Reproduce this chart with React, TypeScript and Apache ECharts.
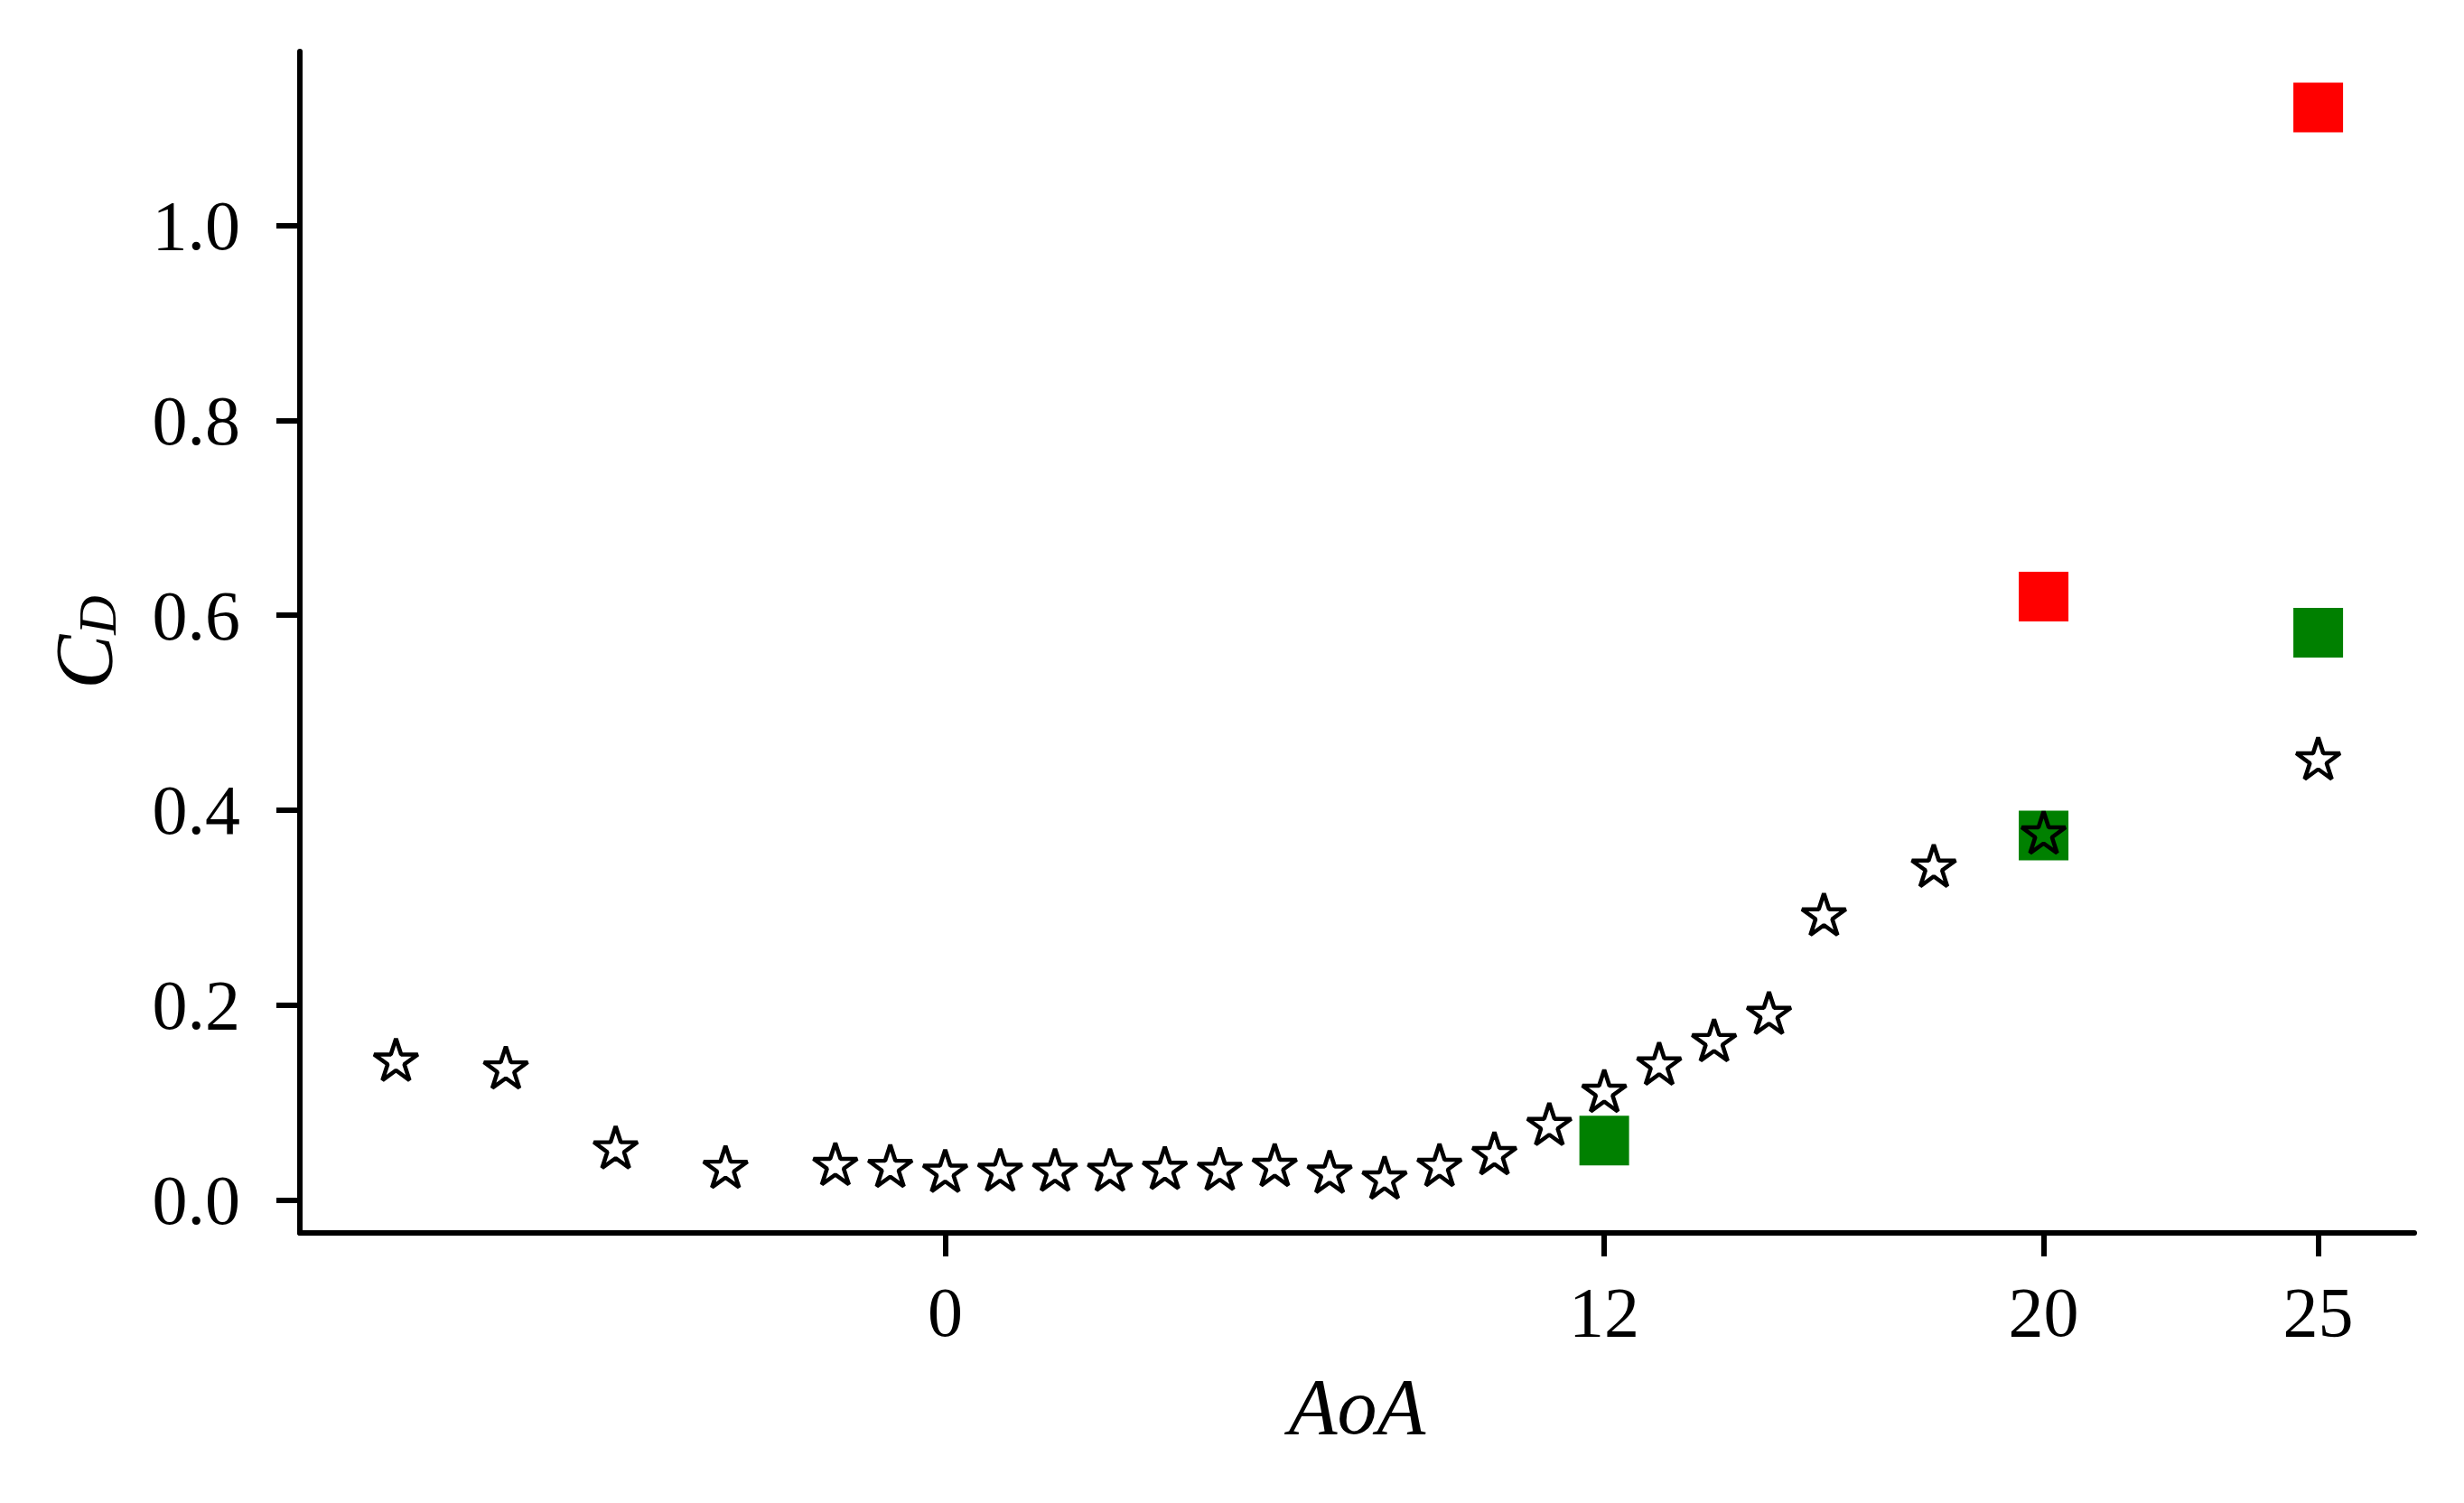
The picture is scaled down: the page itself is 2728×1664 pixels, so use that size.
import React, { useEffect, useRef } from "react";
import * as echarts from "echarts";

// Star series (black hollow stars)
const starAoA = [-10, -8, -6, -4, -2, -1, 0, 1, 2, 3, 4, 5, 6, 7, 8, 9, 10, 11, 12, 13, 14, 15, 16, 18, 20, 25];
const starCD = [0.142, 0.134, 0.052, 0.032, 0.035, 0.033, 0.028, 0.029, 0.029, 0.029, 0.031, 0.030, 0.034, 0.027, 0.021, 0.034, 0.046, 0.076, 0.110, 0.138, 0.162, 0.190, 0.291, 0.341, 0.375, 0.451];

// Red squares
const redAoA = [20, 25];
const redCD = [0.619, 1.121];

// Green squares
const greenAoA = [12, 20, 25];
const greenCD = [0.061, 0.374, 0.582];

// Tick labels
const xTicks = [0, 12, 20, 25];
const yTicks = [0, 0.2, 0.4, 0.6, 0.8, 1.0];

const STAR_PATH =
  "path://M0,-100 L22.452,-30.902 L95.106,-30.902 L36.327,11.803 L58.779,80.902 L0,38.197 L-58.779,80.902 L-36.327,11.803 L-95.106,-30.902 L-22.452,-30.902 Z";

const FONT = "'Liberation Serif', 'Times New Roman', serif";

const zip = (xs: number[], ys: number[]) => xs.map((x, i) => [x, ys[i]]);

export default function App() {
  const ref = useRef<HTMLDivElement>(null);

  useEffect(() => {
    document.body.style.margin = "0";
    if (!ref.current) return;
    const chart = echarts.init(ref.current, undefined, { renderer: "svg" });
    chart.setOption({
      animation: false,
      backgroundColor: "#ffffff",
      grid: { left: 332, top: 57, right: 55, bottom: 299, containLabel: false },
      xAxis: {
        type: "value",
        min: -11.75,
        max: 26.75,
        splitLine: { show: false },
        axisLine: { show: true, onZero: false, lineStyle: { color: "#000", width: 6 } },
        axisTick: {
          show: true,
          length: 26,
          lineStyle: { color: "#000", width: 6 },
          customValues: xTicks,
        },
        axisLabel: {
          customValues: xTicks,
          fontSize: 78,
          fontFamily: FONT,
          color: "#000",
          margin: 48,
        },
        name: "AoA",
        nameLocation: "middle",
        nameGap: 148,
        nameTextStyle: { fontSize: 88, fontStyle: "italic", fontFamily: FONT, color: "#000" },
      },
      yAxis: {
        type: "value",
        min: -0.0338,
        max: 1.1784,
        splitLine: { show: false },
        axisLine: { show: true, onZero: false, lineStyle: { color: "#000", width: 6 } },
        axisTick: {
          show: true,
          length: 26,
          lineStyle: { color: "#000", width: 6 },
          customValues: yTicks,
        },
        axisLabel: {
          customValues: yTicks,
          fontSize: 78,
          fontFamily: FONT,
          color: "#000",
          margin: 66,
          formatter: (v: number) => v.toFixed(1),
        },
        name: "{c|C}{d|D}",
        nameLocation: "middle",
        nameGap: 194,
        nameTextStyle: {
          color: "#000",
          fontFamily: FONT,
          rich: {
            c: { fontSize: 90, fontStyle: "italic", fontFamily: FONT, color: "#000", lineHeight: 90 },
            d: {
              fontSize: 60,
              fontStyle: "italic",
              fontFamily: FONT,
              color: "#000",
              lineHeight: 50,
              verticalAlign: "bottom",
            },
          },
        },
      },
      series: [
        {
          type: "scatter",
          silent: true,
          data: zip(redAoA, redCD),
          symbol: "rect",
          symbolSize: 55,
          itemStyle: { color: "#ff0000", opacity: 1 },
        },
        {
          type: "scatter",
          silent: true,
          data: zip(greenAoA, greenCD),
          symbol: "rect",
          symbolSize: 55,
          itemStyle: { color: "#008000", opacity: 1 },
        },
        {
          type: "scatter",
          silent: true,
          data: zip(starAoA, starCD),
          symbol: STAR_PATH,
          symbolSize: [48.4, 46],
          symbolOffset: [0, -2.4],
          itemStyle: {
            color: "rgba(0,0,0,0)",
            borderColor: "#000",
            borderWidth: 4.5,
            borderJoin: "bevel",
            opacity: 1,
          },
        },
      ],
    });
    return () => chart.dispose();
  }, []);

  return (
    <div
      ref={ref}
      style={{ position: "fixed", left: 0, top: 0, width: 2728, height: 1664, background: "#fff" }}
    />
  );
}
